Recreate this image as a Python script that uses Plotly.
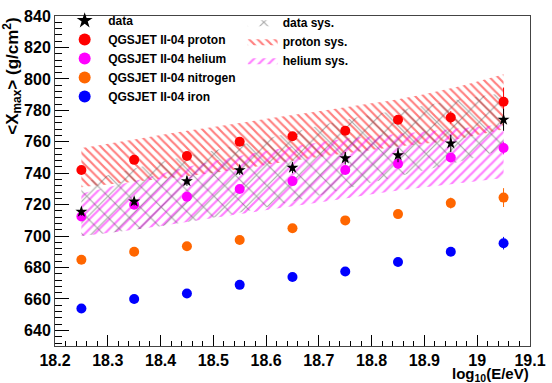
import plotly.graph_objects as go

energy = [18.25, 18.35, 18.45, 18.55, 18.65, 18.75, 18.85, 18.95, 19.05]

data_xmax = [715.5, 722, 735, 742, 743.5, 749.5, 751.5, 759, 774]
data_err = [2.5, 2.5, 3, 3, 3.5, 4, 4.5, 5.5, 7]

proton = [742, 748.5, 751, 760, 763.5, 767, 774, 775.5, 785.5]
proton_err = [1, 1, 1.5, 1.5, 2, 2.5, 3, 4, 9]
helium = [712.5, 720, 725, 730, 735, 742, 746, 750, 756]
helium_err = [1, 1, 1, 1.5, 1.5, 2, 2.5, 3, 4]
nitrogen = [685, 690, 693.5, 697.5, 705, 710, 714, 721, 724.5]
nitrogen_err = [1, 1, 1, 1, 1, 1.5, 2.5, 3.5, 6]
iron = [654, 660, 663.5, 669, 674, 677.5, 683.5, 690, 695.5]
iron_err = [1, 1, 1, 1, 1, 1, 1.5, 2.5, 4]

proton_sys_hi = [756, 761.5, 767, 772, 777, 782, 787, 794, 803]
proton_sys_lo = [731, 734.5, 738, 742.5, 748, 752.5, 757, 761, 768]
helium_sys_hi = [727, 735, 744, 751, 757, 762, 765, 768, 771]
helium_sys_lo = [700, 704, 709, 714, 719, 724, 729, 733, 737]
data_sys_hi = [734, 743, 751, 758, 766, 774, 780, 786, 791]
data_sys_lo = [700, 704, 709, 715, 722, 730, 738, 746, 755]

FONT = "Liberation Sans"
fig = go.Figure()

def band(lo, hi, name, color, shape, size, solidity, rank):
    fig.add_trace(go.Scatter(x=energy, y=lo, mode="lines", line=dict(width=0, shape="spline"),
                             showlegend=False, hoverinfo="skip"))
    fig.add_trace(go.Scatter(x=energy, y=hi, mode="lines", line=dict(width=0, shape="spline"),
                             fill="tonexty", fillcolor="rgba(0,0,0,0)",
                             fillpattern=dict(shape=shape, fgcolor=color, bgcolor="rgba(0,0,0,0)",
                                              size=size, solidity=solidity),
                             name=name, legend="legend2", legendrank=rank))

band(proton_sys_lo, proton_sys_hi, "proton sys.", "#ff0000", "\\", 6, 0.36, 2)
band(helium_sys_lo, helium_sys_hi, "helium sys.", "#ff00ff", "/", 7, 0.32, 3)
band(data_sys_lo, data_sys_hi, "data sys.", "#555555", "x", 15, 0.15, 1)

def pts(y, err, name, color, rank, symbol="circle", size=10):
    fig.add_trace(go.Scatter(x=energy, y=y, mode="markers", name=name,
                             marker=dict(color=color, size=size, symbol=symbol, line=dict(width=0)),
                             error_y=dict(type="data", array=err, color=color, thickness=1, width=0),
                             legend="legend", legendrank=rank))

pts(proton, proton_err, "QGSJET II-04 proton", "#ff0000", 2)
pts(helium, helium_err, "QGSJET II-04 helium", "#ff00ff", 3)
pts(nitrogen, nitrogen_err, "QGSJET II-04 nitrogen", "#ff6600", 4)
pts(iron, iron_err, "QGSJET II-04 iron", "#0000ff", 5)
pts(data_xmax, data_err, "data", "black", 1, "star", 9)

axfont = dict(family=FONT, size=16, color="black", weight="bold")
fig.update_layout(
    width=552, height=383,
    margin=dict(l=55, r=14, t=6, b=37),
    plot_bgcolor="white", paper_bgcolor="white",
    xaxis=dict(range=[18.2, 19.1001], tickmode="linear", dtick=0.1, tick0=18.2, ticks="inside", ticklen=11,
               tickcolor="black", tickwidth=1, showgrid=False, zeroline=False, showline=True,
               linecolor="#444", linewidth=1, mirror=True, tickfont=axfont, ticklabeloverflow="allow",
               minor=dict(dtick=0.02, ticks="inside", ticklen=5, tickcolor="black")),
    yaxis=dict(range=[630.1, 840.01], tickmode="linear", dtick=20, tick0=640, ticks="inside", ticklen=14,
               tickcolor="black", tickwidth=1, showgrid=False, zeroline=False, showline=True,
               linecolor="#444", linewidth=1, mirror=True, tickfont=axfont, ticklabeloverflow="allow",
               minor=dict(dtick=4, ticks="inside", ticklen=7, tickcolor="black")),
    legend=dict(x=0.013, y=1.03, xanchor="left", yanchor="top", bgcolor="rgba(0,0,0,0)",
                font=dict(family=FONT, size=12, color="black", weight="bold"),
                tracegroupgap=0, itemsizing="constant", traceorder="normal", itemwidth=37),
    legend2=dict(x=0.395, y=1.025, xanchor="left", yanchor="top", bgcolor="rgba(0,0,0,0)",
                 font=dict(family=FONT, size=12, color="black", weight="bold"),
                 tracegroupgap=0, traceorder="normal", itemwidth=30),
    showlegend=True,
    annotations=[
        dict(text="&lt;X<sub>max</sub>&gt; (g/cm<sup>2</sup>)", textangle=-90,
             xref="paper", yref="paper", x=-0.09, y=1.0, xanchor="center", yanchor="top",
             showarrow=False, font=dict(family=FONT, size=17, color="black", weight="bold")),
        dict(text="log<sub>10</sub>(E/eV)", xref="paper", yref="paper", x=1.0, y=-0.056,
             xanchor="right", yanchor="top", showarrow=False, borderpad=0,
             font=dict(family=FONT, size=15, color="black", weight="bold")),
    ],
)

post = """
document.body.style.margin='0';document.body.style.overflow='hidden';
setTimeout(function(){document.body.style.margin='0';},300);
"""
fig.write_html("out.html", config={"displayModeBar": False}, post_script=post)
